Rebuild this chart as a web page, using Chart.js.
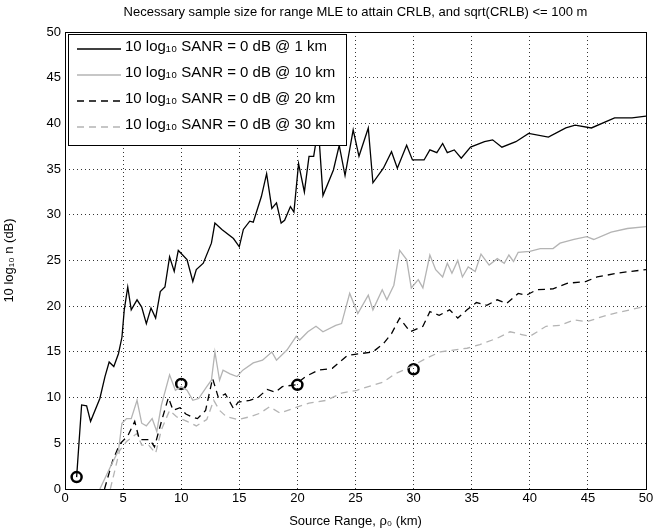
<!DOCTYPE html>
<html>
<head>
<meta charset="utf-8">
<script src="https://cdn.jsdelivr.net/npm/chart.js@4"></script>
<style>
  body { margin: 0; background: #fff; }
  #wrap { width: 667px; height: 529px; }
</style>
</head>
<body>
<div id="wrap"><canvas id="grafico"></canvas></div>
<script>
const titulo = "Necessary sample size for range MLE to attain CRLB, and sqrt(CRLB) <= 100 m";
const rotulos = [
  "10 log\u2081\u2080 SANR = 0 dB @ 1 km",
  "10 log\u2081\u2080 SANR = 0 dB @ 10 km",
  "10 log\u2081\u2080 SANR = 0 dB @ 20 km",
  "10 log\u2081\u2080 SANR = 0 dB @ 30 km"
];

// 1 km
const x1 = [1.0, 1.43, 1.86, 2.2, 3.0, 3.44, 3.8, 4.2, 4.6, 4.9, 5.1, 5.4, 5.7, 6.2, 6.6, 7.0, 7.4, 7.8, 8.2, 8.6, 9.0, 9.4, 9.75, 10.5, 11.0, 11.3, 11.9, 12.6, 12.9, 13.5, 14.5, 15.0, 15.35, 15.9, 16.2, 16.9, 17.35, 17.8, 18.2, 18.6, 18.9, 19.4, 19.7, 20.1, 20.6, 21.0, 21.4, 21.8, 22.2, 23.1, 23.6, 24.1, 24.8, 25.3, 26.1, 26.5, 27.4, 28.1, 28.6, 29.4, 29.9, 30.9, 31.4, 32.0, 32.5, 32.9, 33.5, 34.1, 34.9, 36.1, 36.8, 37.6, 38.8, 39.9, 41.6, 43.1, 43.9, 45.3, 47.3, 48.8, 50];
const y1 = [1.3, 9.2, 9.1, 7.4, 9.9, 12.3, 13.9, 13.4, 14.8, 16.6, 19.6, 22.1, 19.6, 20.7, 19.9, 18.1, 19.8, 18.7, 21.6, 22.1, 25.4, 23.8, 26.1, 25.1, 22.7, 24.0, 24.7, 26.9, 29.1, 28.4, 27.4, 26.5, 28.4, 29.3, 29.2, 32.0, 34.5, 30.7, 31.3, 29.1, 29.4, 30.9, 30.3, 35.6, 32.5, 36.4, 36.4, 39.6, 32.1, 34.9, 37.6, 34.3, 39.3, 36.4, 39.5, 33.5, 35.1, 36.9, 35.1, 37.6, 36.0, 36.0, 37.1, 36.8, 37.8, 36.8, 37.1, 36.2, 37.4, 38.0, 38.2, 37.4, 38.0, 38.9, 38.5, 39.5, 39.8, 39.5, 40.6, 40.6, 40.8];

// 10 km
const x10 = [3.0, 3.9, 4.6, 4.9, 5.3, 5.7, 6.2, 6.6, 7.0, 7.5, 7.9, 8.3, 9.0, 9.5, 10.0, 10.5, 11.0, 11.5, 12.2, 12.6, 12.9, 13.3, 13.6, 14.2, 14.8, 15.3, 16.2, 17.0, 17.8, 18.2, 19.1, 19.9, 20.2, 20.9, 21.6, 22.2, 23.3, 23.8, 24.5, 25.2, 26.1, 26.5, 27.3, 27.7, 28.3, 28.8, 29.4, 29.8, 30.4, 30.8, 31.4, 31.9, 32.5, 32.9, 33.3, 33.8, 34.2, 34.7, 35.3, 35.8, 36.5, 37.2, 37.8, 38.2, 38.6, 39.0, 40.0, 40.9, 42.0, 42.6, 43.8, 44.9, 45.5, 47.0, 48.4, 50];
const y10 = [0.0, 2.4, 4.2, 7.2, 7.7, 7.7, 9.7, 7.2, 6.9, 7.7, 6.3, 9.2, 12.5, 10.8, 11.2, 10.8, 9.7, 9.9, 11.2, 11.9, 15.0, 11.9, 13.0, 12.6, 12.3, 13.0, 13.8, 14.1, 15.0, 14.1, 15.2, 16.7, 16.3, 17.2, 17.8, 17.2, 17.9, 18.1, 21.4, 19.2, 21.2, 19.6, 21.8, 20.7, 22.3, 26.1, 25.1, 22.0, 22.9, 22.0, 25.6, 24.0, 23.2, 24.7, 23.6, 25.0, 23.2, 24.3, 23.8, 25.7, 24.5, 25.2, 24.7, 25.6, 24.9, 25.9, 26.0, 26.3, 26.3, 26.9, 27.3, 27.6, 27.3, 28.1, 28.5, 28.7];

// 20 km
const x20 = [3.4, 4.1, 4.7, 5.4, 6.0, 6.4, 7.3, 7.7, 8.3, 8.9, 9.3, 9.9, 10.4, 10.9, 11.4, 12.1, 12.7, 13.2, 13.8, 14.5, 14.9, 15.9, 16.6, 17.4, 18.1, 18.7, 19.8, 20.7, 21.8, 23.0, 24.3, 24.8, 26.5, 27.4, 28.1, 28.8, 29.7, 30.8, 31.4, 32.2, 33.1, 33.8, 34.6, 35.4, 36.3, 37.2, 38.0, 39.0, 39.7, 40.6, 42.0, 43.2, 44.8, 45.8, 47.5, 48.6, 50];
const y20 = [0.0, 3.1, 4.9, 5.8, 7.4, 5.4, 5.4, 4.6, 7.4, 10.0, 8.6, 8.9, 8.2, 7.9, 7.7, 8.6, 12.1, 10.0, 10.4, 8.8, 9.5, 9.7, 10.0, 10.9, 10.6, 11.2, 11.4, 12.3, 13.0, 13.2, 14.6, 14.7, 15.0, 15.9, 17.0, 18.7, 17.2, 17.8, 19.4, 19.0, 19.6, 18.7, 19.6, 20.4, 20.1, 20.7, 20.3, 21.4, 21.2, 21.8, 21.9, 22.5, 22.7, 23.2, 23.6, 23.8, 24.0];

// 30 km
const x30 = [3.9, 4.7, 5.3, 6.2, 6.6, 7.2, 7.8, 8.3, 9.0, 9.6, 10.5, 11.3, 12.2, 12.8, 13.3, 13.9, 14.9, 15.9, 16.8, 17.6, 18.5, 19.6, 21.0, 22.5, 23.8, 25.1, 27.4, 28.4, 29.8, 31.1, 32.3, 33.4, 34.6, 35.7, 37.2, 38.3, 39.3, 40.0, 41.4, 42.6, 43.8, 44.9, 46.1, 47.2, 48.6, 50];
const y30 = [0.0, 4.2, 5.2, 6.1, 4.8, 4.8, 3.9, 6.5, 8.6, 7.9, 7.4, 6.9, 7.6, 9.7, 8.6, 7.9, 7.6, 7.9, 8.3, 9.0, 8.3, 8.8, 9.4, 9.7, 10.5, 10.8, 11.7, 12.6, 13.4, 14.3, 15.0, 15.2, 15.4, 15.8, 16.5, 17.2, 16.9, 16.7, 17.8, 17.9, 18.5, 18.3, 18.8, 19.2, 19.6, 20.0];

// circle markers
const circX = [1, 10, 20, 30];
const circY = [1.3, 11.5, 11.4, 13.1];

function pares(xs, ys) {
  return xs.map((x, i) => ({ x: x, y: ys[i] }));
}

const fonte = "'Liberation Sans', Arial, sans-serif";
const cinza = "#b4b4b4";

const estilos = [
  { cor: "#000", tracejado: [] },
  { cor: cinza, tracejado: [] },
  { cor: "#000", tracejado: [7, 5] },
  { cor: cinza, tracejado: [7, 5] }
];

const linhas = [[x1, y1], [x10, y10], [x20, y20], [x30, y30]].map((s, i) => ({
  label: rotulos[i],
  data: pares(s[0], s[1]),
  borderColor: estilos[i].cor,
  borderDash: estilos[i].tracejado,
  borderWidth: 1.3,
  pointRadius: 0,
  fill: false,
  tension: 0
}));

const circulos = {
  label: "marcadores",
  type: "scatter",
  data: pares(circX, circY),
  pointRadius: 5,
  pointBorderWidth: 2.5,
  pointBorderColor: "#000",
  pointBackgroundColor: "rgba(0,0,0,0)"
};

const desenhoExtra = {
  id: "desenhoExtra",
  afterDraw(chart) {
    const ctx = chart.ctx;
    const a = chart.chartArea;
    ctx.save();
    // moldura
    ctx.strokeStyle = "#000";
    ctx.lineWidth = 1;
    ctx.setLineDash([]);
    ctx.strokeRect(a.left + 0.5, a.top + 0.5, a.right - a.left, a.bottom - a.top);
    // titulo
    ctx.fillStyle = "#000";
    ctx.font = "13px " + fonte;
    ctx.textAlign = "center";
    ctx.textBaseline = "middle";
    ctx.fillText(titulo, (a.left + a.right) / 2, 12);
    // legenda
    const lx = 68, ly = 34, lw = 278, lh = 111;
    ctx.fillStyle = "#fff";
    ctx.fillRect(lx, ly, lw, lh);
    ctx.strokeRect(lx + 0.5, ly + 0.5, lw, lh);
    ctx.font = "15px " + fonte;
    ctx.textAlign = "left";
    rotulos.forEach((r, i) => {
      const yy = ly + 13 + i * 26;
      ctx.strokeStyle = estilos[i].cor;
      ctx.setLineDash(estilos[i].tracejado);
      ctx.lineWidth = 1.3;
      ctx.beginPath();
      ctx.moveTo(lx + 9, yy + 2);
      ctx.lineTo(lx + 53, yy + 2);
      ctx.stroke();
      ctx.fillStyle = "#000";
      ctx.fillText(r, lx + 57, yy);
    });
    ctx.restore();
  }
};

new Chart(document.getElementById("grafico"), {
  type: "line",
  data: { datasets: [...linhas, circulos] },
  options: {
    responsive: true,
    maintainAspectRatio: false,
    animation: false,
    layout: { padding: { top: 32, right: 21, left: 0, bottom: 0 } },
    plugins: {
      legend: { display: false },
      tooltip: { enabled: false }
    },
    scales: {
      x: {
        type: "linear",
        min: 0,
        max: 50,
        ticks: { stepSize: 5, color: "#000", font: { size: 13, family: fonte }, padding: 2 },
        grid: { color: "#000", lineWidth: 0.8, borderDash: [1, 3], drawTicks: false },
        border: { dash: [1, 3], display: false },
        title: { display: true, text: "Source Range, \u03c1\u2080 (km)", color: "#000", font: { size: 13, family: fonte }, padding: 0 },
        afterFit(s) { s.height = 40; }
      },
      y: {
        min: 0,
        max: 50,
        ticks: { stepSize: 5, color: "#000", font: { size: 13, family: fonte }, padding: 4 },
        grid: { color: "#000", lineWidth: 0.8, drawTicks: false },
        border: { dash: [1, 3], display: false },
        title: { display: true, text: "10 log\u2081\u2080 n (dB)", color: "#000", font: { size: 13, family: fonte }, padding: 2 },
        afterFit(s) { s.width = 65; }
      }
    }
  },
  plugins: [desenhoExtra]
});
</script>
</body>
</html>
